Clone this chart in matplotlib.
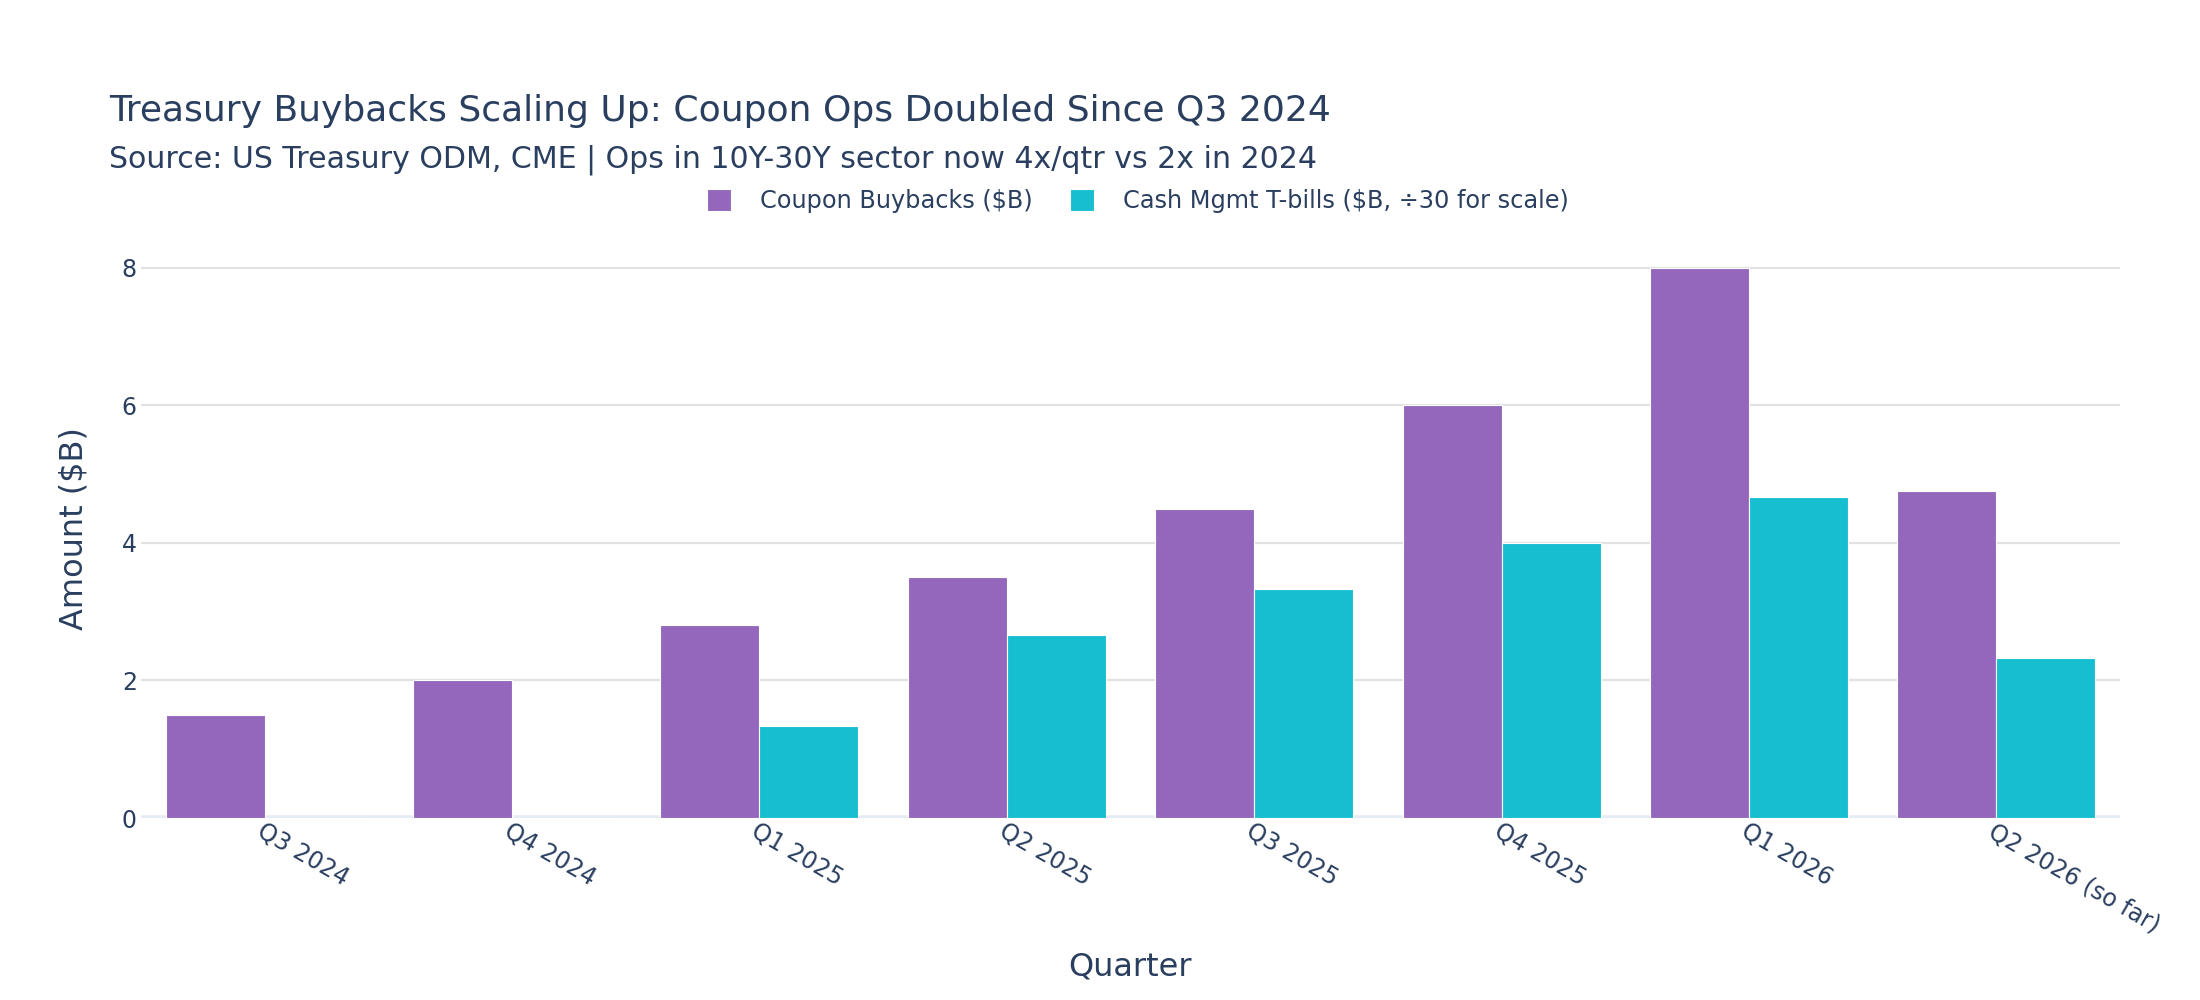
import matplotlib.pyplot as plt
import numpy as np

quarters = ["Q3 2024", "Q4 2024", "Q1 2025", "Q2 2025", "Q3 2025",
            "Q4 2025", "Q1 2026", "Q2 2026 (so far)"]
coupon_buybacks = [1.5, 2.0, 2.8, 3.5, 4.5, 6.0, 8.0, 4.75]
# cash management T-bills in $B, shown divided by 30
cash_mgmt_bills = [0, 0, 40, 80, 100, 120, 140, 70]
cash_scaled = [v / 30 for v in cash_mgmt_bills]

text_color = "#2a3f5f"
plt.rcParams["font.family"] = ["DejaVu Sans"]

fig = plt.figure(figsize=(22, 10), dpi=100)
ax = fig.add_axes([141 / 2200, 0.182, (2120 - 141) / 2200, 0.579])

x = np.arange(len(quarters))
w = 0.4
ax.bar(x - w / 2, coupon_buybacks, w, color="#9467BD", edgecolor="white",
       linewidth=0.8, label="Coupon Buybacks ($B)", zorder=3)
ax.bar(x + w / 2, cash_scaled, w, color="#17BECF", edgecolor="white",
       linewidth=0.8, label="Cash Mgmt T-bills ($B, \u00f730 for scale)", zorder=3)

ax.set_xlim(-0.5, len(quarters) - 0.5)
ax.set_ylim(0, 8.42)
ax.set_yticks([0, 2, 4, 6, 8])
ax.grid(axis="y", color="#e2e2e2", linewidth=1.6, zorder=0)
ax.axhline(0, color="#E6ECF6", linewidth=4, zorder=2)
for s in ax.spines.values():
    s.set_visible(False)

ax.set_xticks(x)
ax.set_xticklabels(quarters, rotation=-30, rotation_mode="anchor",
                   ha="left", va="top")
ax.tick_params(axis="both", length=0, labelsize=17, labelcolor=text_color)
ax.tick_params(axis="x", pad=1)
ax.tick_params(axis="y", pad=3)

ax.set_ylabel("Amount ($B)", fontsize=23, color=text_color)
ax.yaxis.set_label_coords(-0.0258, 0.5)
fig.text(0.5 * (141 + 2120) / 2200, 0.033, "Quarter", fontsize=23,
         color=text_color, ha="center", va="center")

fig.text(109 / 2200, 0.8895, "Treasury Buybacks Scaling Up: Coupon Ops Doubled Since Q3 2024",
         fontsize=26, color=text_color, va="center", ha="left")
fig.text(109 / 2200, 0.8405, "Source: US Treasury ODM, CME | Ops in 10Y-30Y sector now 4x/qtr vs 2x in 2024",
         fontsize=21.6, color=text_color, va="center", ha="left")

fig.legend(loc="center", bbox_to_anchor=(1138 / 2200, 0.799), ncol=2, frameon=False,
           fontsize=17.3, labelcolor=text_color, handlelength=1.0, handleheight=1.0,
           columnspacing=1.55, handletextpad=1.2)

fig.savefig("out.png", dpi=100, facecolor="white")
